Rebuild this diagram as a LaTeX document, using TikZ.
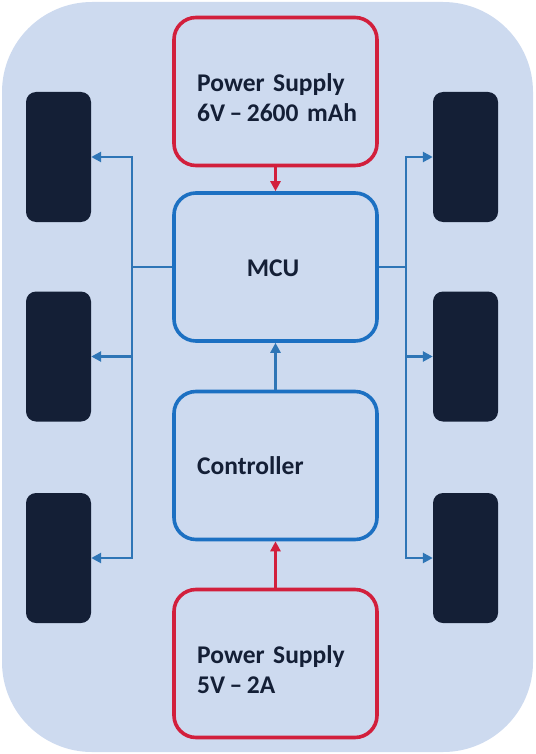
\documentclass[tikz,border=0pt]{standalone}
\usepackage{fontspec}
\setmainfont{Carlito}
\usetikzlibrary{arrows.meta}
\definecolor{bgblue}{HTML}{CDDAEF}
\definecolor{boxred}{HTML}{D21F3C}
\definecolor{boxblue}{HTML}{1C70C2}
\definecolor{busblue}{HTML}{2E75B6}
\definecolor{wheelnavy}{HTML}{141F36}
\definecolor{txtnavy}{HTML}{141F36}
\newcommand{\dsp}{\hspace{4.5pt}}
\tikzset{
  psbox/.style={draw=boxred, line width=3.6pt, rounded corners=22pt, minimum width=203pt, minimum height=148pt, inner sep=0pt},
  blkbox/.style={draw=boxblue, line width=3.6pt, rounded corners=22pt, minimum width=203pt, minimum height=148pt, inner sep=0pt},
  wheel/.style={fill=wheelnavy, rounded corners=10pt, minimum width=65pt, minimum height=130pt, inner sep=0pt},
  lbl/.style={text=txtnavy, font=\bfseries\fontsize{25.5}{30}\selectfont, inner sep=0pt},
  redarrow/.style={draw=boxred, line width=2.8pt, -{Triangle[length=10pt,width=10pt]}},
  bluearrow/.style={draw=busblue, line width=2.8pt, -{Triangle[length=10pt,width=10pt]}},
  busline/.style={draw=busblue, line width=2.8pt},
}
\begin{document}
\begin{tikzpicture}[x=1pt,y=-1pt]
\useasboundingbox (0,0) rectangle (535,754);
\fill[bgblue, rounded corners=90pt] (2,2) rectangle (533,752);

\node[psbox]  (ps1)  at (275.5,91.5) {};
\node[blkbox] (mcu)  at (275.5,267) {};
\node[blkbox] (ctrl) at (275.5,465.5) {};
\node[psbox]  (ps2)  at (275.5,663.5) {};

\node[lbl, anchor=base west, text width=180pt, align=left] (t1) at (197,92) {Power Supply\\6V\dsp–\dsp2600 mAh};
\node[lbl, anchor=base] (t2) at (273,276) {MCU};
\node[lbl, anchor=base west] (t3) at (197,474) {Controller};
\node[lbl, anchor=base west, text width=180pt, align=left] (t4) at (197,663) {Power Supply\\5V\dsp–\dsp2A};

\node[wheel] (wl1) at (58.5,157) {};
\node[wheel] (wl2) at (58.5,356.5) {};
\node[wheel] (wl3) at (58.5,558) {};
\node[wheel] (wr1) at (465.5,157) {};
\node[wheel] (wr2) at (465.5,356.5) {};
\node[wheel] (wr3) at (465.5,558) {};

\coordinate (busL) at (132,267);
\coordinate (busR) at (406,267);

\draw[redarrow] (ps1.south) -- (mcu.north);
\draw[bluearrow] (ctrl.north) -- (mcu.south);
\draw[redarrow] (ps2.north) -- (ctrl.south);

\draw[busline] (mcu.west) -- (busL);
\draw[busline] (mcu.east) -- (busR);
\draw[bluearrow] (busL) |- (wl1.east);
\draw[bluearrow] (busL) |- (wl2.east);
\draw[bluearrow] (busL) |- (wl3.east);
\draw[bluearrow] (busR) |- (wr1.west);
\draw[bluearrow] (busR) |- (wr2.west);
\draw[bluearrow] (busR) |- (wr3.west);
\end{tikzpicture}
\end{document}
